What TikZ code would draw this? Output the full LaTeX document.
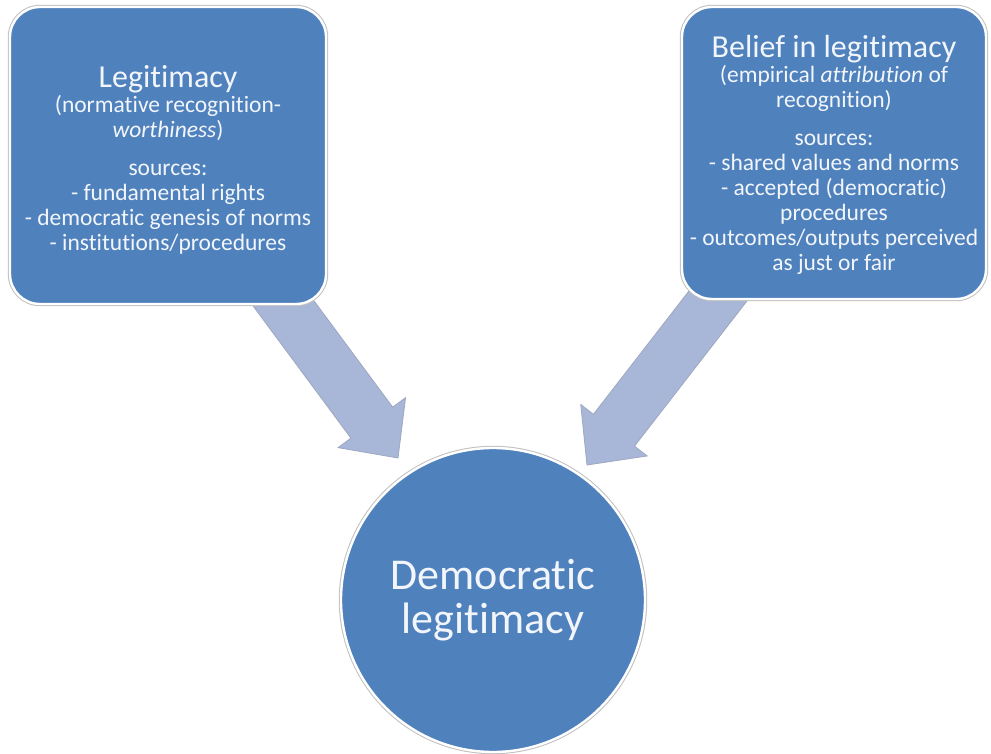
\documentclass[tikz,border=0pt]{standalone}
\usepackage{fontspec}
\setmainfont{Carlito}[Ligatures={TeX,NoCommon}]
\usetikzlibrary{calc}
\definecolor{boxblue}{RGB}{79,129,189}
\definecolor{boxtxt}{RGB}{242,246,251}
\definecolor{arrfill}{RGB}{168,183,215}
\definecolor{arrline}{RGB}{158,168,192}
\definecolor{rimgray}{RGB}{192,192,192}
\newcommand{\paneltitle}{\fontsize{32}{25}\selectfont}
\newcommand{\blockarrow}[1]{%
  \coordinate (#1-b) at ($(#1-t)!44pt!(#1-s)$);
  \draw[blockarr] ($(#1-s)!26pt!90:(#1-t)$) -- ($(#1-b)!26pt!90:(#1-t)$)
    -- ($(#1-b)!42pt!90:(#1-t)$) -- (#1-t) -- ($(#1-b)!42pt!-90:(#1-t)$)
    -- ($(#1-b)!26pt!-90:(#1-t)$) -- ($(#1-s)!26pt!-90:(#1-t)$) -- cycle;}
\tikzset{
  panel/.style={rectangle, rounded corners=30pt, fill=boxblue, draw=white,
    line width=2.4pt, preaction={draw=rimgray, line width=4.4pt}, inner sep=0pt},
  hub/.style={circle, fill=boxblue, draw=white, line width=2.4pt,
    preaction={draw=rimgray, line width=4.4pt}, inner sep=0pt,
    minimum size=304pt, align=center, text=boxtxt,
    font=\fontsize{44}{44}\selectfont},
  paneltext/.style={align=center, text=boxtxt, inner sep=0pt,
    font=\fontsize{23.5}{25}\selectfont},
  blockarr/.style={fill=arrfill, draw=arrline, line width=0.8pt, line join=miter}
}
\begin{document}
\begin{tikzpicture}[x=1pt,y=-1pt]
\fill[white] (0,0) rectangle (991,754);
\useasboundingbox (0,0) rectangle (991,754);
% arrows (behind the boxes)
\coordinate (la-s) at (262.5,275);
\coordinate (la-t) at (398,458);
\coordinate (ra-s) at (735,274);
\coordinate (ra-t) at (587,465);
\blockarrow{la}
\blockarrow{ra}
% boxes
\node[panel, minimum width=316pt, minimum height=297pt] (lbox) at (168,155.5) {};
\node[panel, minimum width=304pt, minimum height=292pt] (rbox) at (834,153) {};
\node[paneltext] (ltext) at (168,160) {{\paneltitle Legitimacy}\\(normative recognition-\\\textit{worthiness})\\[13pt]sources:\\- fundamental rights\\- democratic genesis of norms\\- institutions/procedures};
\node[paneltext] (rtext) at (834,155) {{\paneltitle Belief in legitimacy}\\(empirical \textit{attribution} of\\recognition)\\[13pt]sources:\\- shared values and norms\\- accepted (democratic)\\procedures\\- outcomes/outputs perceived\\as just or fair};
% circle
\node[hub] (hub) at (493,600) {Democratic\\legitimacy};
\end{tikzpicture}
\end{document}
